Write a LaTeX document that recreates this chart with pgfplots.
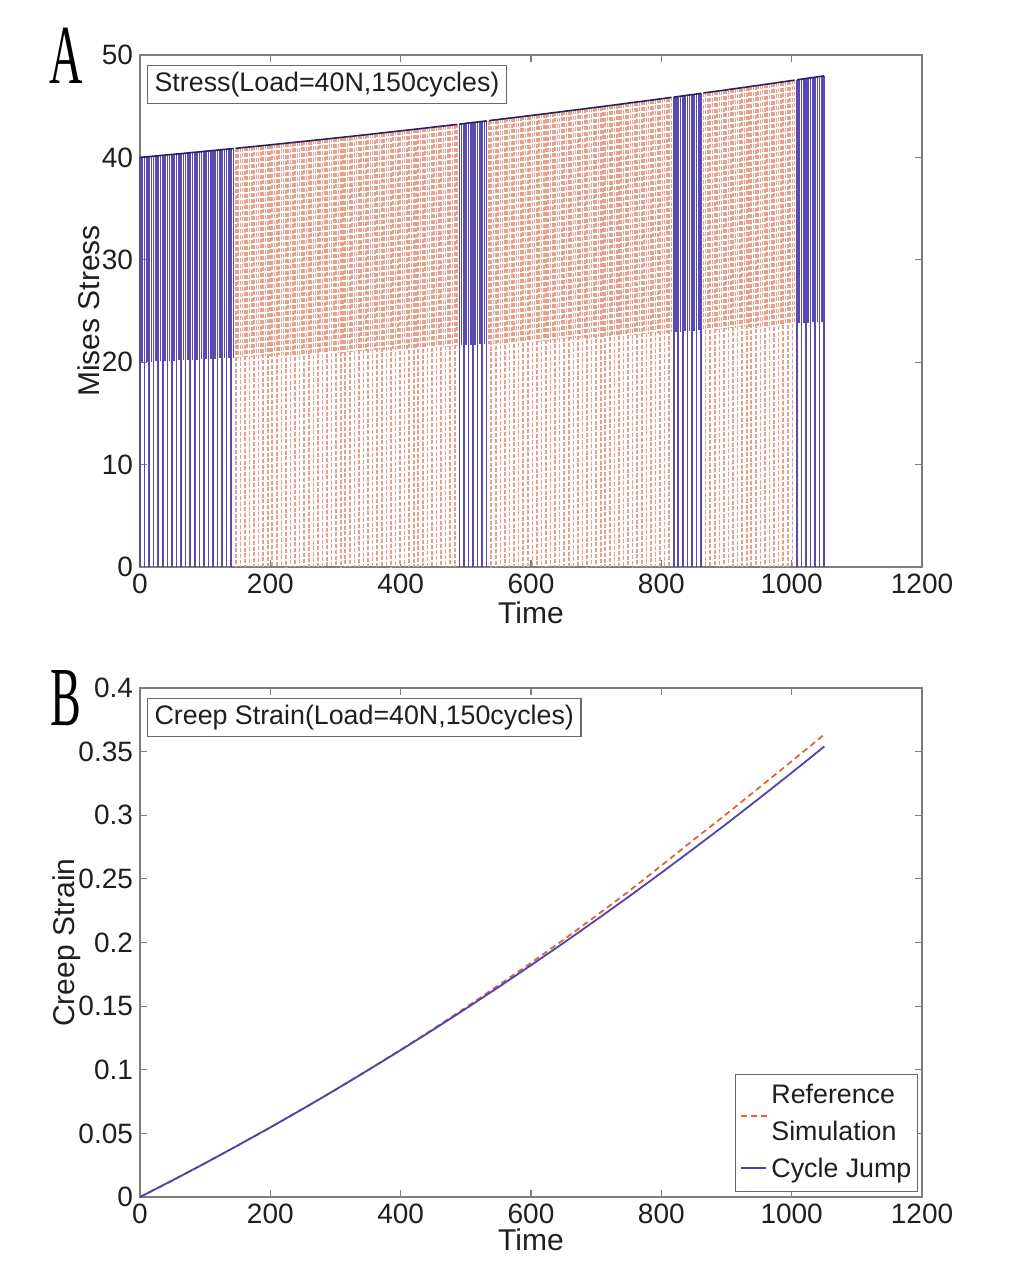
\documentclass[border=0pt]{standalone}
\usepackage{pgfplots}
\pgfplotsset{compat=1.18}
\usepackage{pgfplotstable}
\usepackage{graphicx}
\usepackage{fontspec}
\setmainfont{Liberation Sans}
\newfontfamily\lserif{Liberation Serif}

\definecolor{cjblue}{RGB}{88,74,178}
\definecolor{cjblue2}{RGB}{78,68,172}
\definecolor{envnavy}{RGB}{40,32,95}
\definecolor{refred}{RGB}{230,160,140}
\definecolor{refred2}{RGB}{226,98,62}
\definecolor{axgray}{RGB}{125,125,125}
\definecolor{boxgray}{RGB}{105,105,105}

% Stress peaks: t, peak stress P, relative drop r (1 = to zero, 0.5 = to half)
\pgfplotstableread{
t P r
0 40.00 1
3.5 40.02 0.5
7 40.04 1
10.5 40.06 0.5
14 40.08 1
17.5 40.10 0.5
21 40.12 1
24.5 40.14 0.5
28 40.16 1
31.5 40.18 0.5
35 40.21 1
38.5 40.23 0.5
42 40.25 1
45.5 40.27 0.5
49 40.29 1
52.5 40.31 0.5
56 40.33 1
59.5 40.35 0.5
63 40.37 1
66.5 40.39 0.5
70 40.41 1
73.5 40.44 0.5
77 40.46 1
80.5 40.48 0.5
84 40.50 1
87.5 40.52 0.5
91 40.54 1
94.5 40.56 0.5
98 40.59 1
101.5 40.61 0.5
105 40.63 1
108.5 40.65 0.5
112 40.67 1
115.5 40.69 0.5
119 40.71 1
122.5 40.74 0.5
126 40.76 1
129.5 40.78 0.5
133 40.80 1
136.5 40.82 0.5
140 40.85 1
143.5 40.87 0.5
}\blueA

\pgfplotstableread{
t P r
147 40.89 1
150.5 40.91 0.5
154 40.93 1
157.5 40.96 0.5
161 40.98 1
164.5 41.00 0.5
168 41.02 1
171.5 41.04 0.5
175 41.07 1
178.5 41.09 0.5
182 41.11 1
185.5 41.13 0.5
189 41.16 1
192.5 41.18 0.5
196 41.20 1
199.5 41.22 0.5
203 41.25 1
206.5 41.27 0.5
210 41.29 1
213.5 41.32 0.5
217 41.34 1
220.5 41.36 0.5
224 41.39 1
227.5 41.41 0.5
231 41.43 1
234.5 41.45 0.5
238 41.48 1
241.5 41.50 0.5
245 41.52 1
248.5 41.55 0.5
252 41.57 1
255.5 41.59 0.5
259 41.62 1
262.5 41.64 0.5
266 41.66 1
269.5 41.69 0.5
273 41.71 1
276.5 41.73 0.5
280 41.76 1
283.5 41.78 0.5
287 41.80 1
290.5 41.83 0.5
294 41.85 1
297.5 41.88 0.5
301 41.90 1
304.5 41.92 0.5
308 41.95 1
311.5 41.97 0.5
315 42.00 1
318.5 42.02 0.5
322 42.04 1
325.5 42.07 0.5
329 42.09 1
332.5 42.12 0.5
336 42.14 1
339.5 42.17 0.5
343 42.19 1
346.5 42.21 0.5
350 42.24 1
353.5 42.26 0.5
357 42.29 1
360.5 42.31 0.5
364 42.34 1
367.5 42.36 0.5
371 42.39 1
374.5 42.41 0.5
378 42.44 1
381.5 42.46 0.5
385 42.49 1
388.5 42.51 0.5
392 42.54 1
395.5 42.56 0.5
399 42.59 1
402.5 42.61 0.5
406 42.64 1
409.5 42.66 0.5
413 42.69 1
416.5 42.71 0.5
420 42.74 1
423.5 42.76 0.5
427 42.79 1
430.5 42.81 0.5
434 42.84 1
437.5 42.86 0.5
441 42.89 1
444.5 42.91 0.5
448 42.94 1
451.5 42.97 0.5
455 42.99 1
458.5 43.02 0.5
462 43.04 1
465.5 43.07 0.5
469 43.09 1
472.5 43.12 0.5
476 43.15 1
479.5 43.17 0.5
483 43.20 1
486.5 43.22 0.5
}\redA

\pgfplotstableread{
t P r
490 43.25 1
493.5 43.28 0.5
497 43.30 1
500.5 43.33 0.5
504 43.36 1
507.5 43.38 0.5
511 43.41 1
514.5 43.43 0.5
518 43.46 1
521.5 43.49 0.5
525 43.51 1
528.5 43.54 0.5
532 43.57 1
}\blueB

\pgfplotstableread{
t P r
535.5 43.59 0.5
539 43.62 1
542.5 43.65 0.5
546 43.67 1
549.5 43.70 0.5
553 43.73 1
556.5 43.75 0.5
560 43.78 1
563.5 43.81 0.5
567 43.84 1
570.5 43.86 0.5
574 43.89 1
577.5 43.92 0.5
581 43.94 1
584.5 43.97 0.5
588 44.00 1
591.5 44.03 0.5
595 44.05 1
598.5 44.08 0.5
602 44.11 1
605.5 44.14 0.5
609 44.16 1
612.5 44.19 0.5
616 44.22 1
619.5 44.25 0.5
623 44.27 1
626.5 44.30 0.5
630 44.33 1
633.5 44.36 0.5
637 44.39 1
640.5 44.41 0.5
644 44.44 1
647.5 44.47 0.5
651 44.50 1
654.5 44.53 0.5
658 44.55 1
661.5 44.58 0.5
665 44.61 1
668.5 44.64 0.5
672 44.67 1
675.5 44.69 0.5
679 44.72 1
682.5 44.75 0.5
686 44.78 1
689.5 44.81 0.5
693 44.84 1
696.5 44.86 0.5
700 44.89 1
703.5 44.92 0.5
707 44.95 1
710.5 44.98 0.5
714 45.01 1
717.5 45.04 0.5
721 45.07 1
724.5 45.09 0.5
728 45.12 1
731.5 45.15 0.5
735 45.18 1
738.5 45.21 0.5
742 45.24 1
745.5 45.27 0.5
749 45.30 1
752.5 45.33 0.5
756 45.36 1
759.5 45.39 0.5
763 45.42 1
766.5 45.44 0.5
770 45.47 1
773.5 45.50 0.5
777 45.53 1
780.5 45.56 0.5
784 45.59 1
787.5 45.62 0.5
791 45.65 1
794.5 45.68 0.5
798 45.71 1
801.5 45.74 0.5
805 45.77 1
808.5 45.80 0.5
812 45.83 1
815.5 45.86 0.5
}\redB

\pgfplotstableread{
t P r
819 45.89 1
822.5 45.92 0.5
826 45.95 1
829.5 45.98 0.5
833 46.01 1
836.5 46.04 0.5
840 46.07 1
843.5 46.10 0.5
847 46.13 1
850.5 46.16 0.5
854 46.19 1
857.5 46.23 0.5
861 46.26 1
}\blueC

\pgfplotstableread{
t P r
864.5 46.29 0.5
868 46.32 1
871.5 46.35 0.5
875 46.38 1
878.5 46.41 0.5
882 46.44 1
885.5 46.47 0.5
889 46.50 1
892.5 46.53 0.5
896 46.56 1
899.5 46.59 0.5
903 46.62 1
906.5 46.66 0.5
910 46.69 1
913.5 46.72 0.5
917 46.75 1
920.5 46.78 0.5
924 46.81 1
927.5 46.84 0.5
931 46.87 1
934.5 46.91 0.5
938 46.94 1
941.5 46.97 0.5
945 47.00 1
948.5 47.03 0.5
952 47.06 1
955.5 47.10 0.5
959 47.13 1
962.5 47.16 0.5
966 47.19 1
969.5 47.22 0.5
973 47.25 1
976.5 47.29 0.5
980 47.32 1
983.5 47.35 0.5
987 47.38 1
990.5 47.41 0.5
994 47.45 1
997.5 47.48 0.5
1001 47.51 1
1004.5 47.54 0.5
}\redC

\pgfplotstableread{
t P r
1008 47.57 1
1011.5 47.61 0.5
1015 47.64 1
1018.5 47.67 0.5
1022 47.70 1
1025.5 47.74 0.5
1029 47.77 1
1032.5 47.80 0.5
1036 47.83 1
1039.5 47.87 0.5
1043 47.90 1
1046.5 47.93 0.5
1050 47.96 1
}\blueD

\pgfplotsset{
  myaxis/.style={
    scale only axis, width=391pt,
    xmin=0, xmax=1200, xtick={0,200,400,600,800,1000,1200},
    axis line style={draw=axgray, line width=0.7pt},
    tick style={draw=axgray, line width=0.6pt},
    major tick length=3.5pt,
    tick align=inside,
    tick label style={font=\fontsize{14}{16}\selectfont, text=black!88},
    label style={font=\fontsize{15}{17}\selectfont, text=black!88},
    /pgf/number format/assume math mode=true,
    /pgf/number format/1000 sep={},
    xlabel={Time},
    xlabel style={yshift=3pt},
    clip=false,
  },
  bluebars/.style={draw=none, mark=none, forget plot,
    error bars/.cd, y dir=minus, y explicit relative, error mark=none,
    error bar style={draw=cjblue, solid, line width=0.8pt}},
  redbars/.style={draw=none, mark=none, forget plot,
    error bars/.cd, y dir=minus, y explicit relative, error mark=none,
    error bar style={draw=refred, dash pattern=on 2pt off 0.9pt, line width=0.8pt}},
  envelope/.style={envnavy, line width=0.8pt, mark=none, forget plot},
}

\newcommand\dashsample{%
  \textcolor{refred2}{\rule{3pt}{1.1pt}\hspace{2pt}\rule{3pt}{1.1pt}\hspace{2pt}\rule{3pt}{1.1pt}}}
\newcommand\solidsample{\textcolor{cjblue2}{\rule{12.5pt}{1pt}}}

\begin{document}
\begin{tikzpicture}
\useasboundingbox (0pt,0pt) rectangle (506.5pt,-631.5pt);

\node[font=\lserif\fontsize{42}{42}\selectfont, inner sep=0pt] at (33pt,-28pt) {\scalebox{0.55}[1]{A}};
\node[font=\lserif\fontsize{42}{42}\selectfont, inner sep=0pt] at (33pt,-349pt) {\scalebox{0.55}[1]{B}};

% ---------- Panel A ----------
\begin{axis}[myaxis, at={(70pt,-27.5pt)}, anchor=north west, height=256pt,
  ymin=0, ymax=50, ytick={0,10,20,30,40,50},
  ylabel={Mises Stress}, ylabel style={yshift=-6pt}]
\addplot[redbars] table[x=t, y=P, y error=r] {\redA};
\addplot[redbars] table[x=t, y=P, y error=r] {\redB};
\addplot[redbars] table[x=t, y=P, y error=r] {\redC};
\addplot[bluebars] table[x=t, y=P, y error=r] {\blueA};
\addplot[bluebars] table[x=t, y=P, y error=r] {\blueB};
\addplot[bluebars] table[x=t, y=P, y error=r] {\blueC};
\addplot[bluebars] table[x=t, y=P, y error=r] {\blueD};
\addplot[envelope] table[x=t, y=P] {\blueA};
\addplot[envelope] table[x=t, y=P] {\redA};
\addplot[envelope] table[x=t, y=P] {\blueB};
\addplot[envelope] table[x=t, y=P] {\redB};
\addplot[envelope] table[x=t, y=P] {\blueC};
\addplot[envelope] table[x=t, y=P] {\redC};
\addplot[envelope] table[x=t, y=P] {\blueD};
\node[draw=boxgray, line width=0.6pt, fill=white, anchor=north west, inner xsep=3.5pt, inner ysep=3pt,
  text height=10pt, text depth=2.8pt, font=\fontsize{13.4}{15}\selectfont, text=black!88]
  at ([xshift=3.5pt,yshift=-5pt]rel axis cs:0,1) {Stress(Load=40N,150cycles)};
\end{axis}

% ---------- Panel B ----------
\begin{axis}[myaxis, at={(70pt,-344pt)}, anchor=north west, height=254.5pt,
  ymin=0, ymax=0.4, ytick={0,0.05,0.1,0.15,0.2,0.25,0.3,0.35,0.4},
  yticklabel style={/pgf/number format/fixed, /pgf/number format/precision=2},
  ylabel={Creep Strain}, ylabel style={yshift=-8pt},
  xlabel style={yshift=1.5pt}]
\addplot[refred2, line width=0.9pt, dash pattern=on 3pt off 2pt] coordinates {
(0,0) (50,0.0131) (100,0.0266) (150,0.0405) (200,0.0547) (250,0.0693)
(300,0.0843) (350,0.0998) (400,0.1157) (450,0.1320) (500,0.1490)
(550,0.1663) (600,0.1840) (650,0.2022) (700,0.2210) (750,0.2402)
(800,0.2604) (850,0.2809) (900,0.3010) (950,0.3217) (1000,0.3424) (1050,0.3635)};
\addplot[cjblue2, line width=0.9pt] coordinates {
(0,0) (50,0.0131) (100,0.0266) (150,0.0405) (200,0.0547) (250,0.0693)
(300,0.0843) (350,0.0997) (400,0.1154) (450,0.1315) (500,0.1480)
(550,0.1649) (600,0.1821) (650,0.1997) (700,0.2177) (750,0.2360)
(800,0.2548) (850,0.2739) (900,0.2933) (950,0.3132) (1000,0.3334) (1050,0.3540)};
\node[draw=boxgray, line width=0.6pt, fill=white, anchor=north west, inner xsep=3.5pt, inner ysep=3pt,
  text height=10pt, text depth=2.8pt, font=\fontsize{13.4}{15}\selectfont, text=black!88]
  at ([xshift=3.5pt,yshift=-5pt]rel axis cs:0,1) {Creep Strain(Load=40N,150cycles)};
% legend
\node[draw=boxgray, line width=0.6pt, fill=white, anchor=south east, inner xsep=3pt, inner ysep=1.5pt,
  font=\fontsize{13.4}{18.5}\selectfont, text=black!88]
  at ([xshift=-2pt,yshift=2.5pt]rel axis cs:1,0) {%
  \begin{tabular}{@{}l@{\hspace{2pt}}l@{}}
  \smash{\raisebox{-7pt}{\dashsample}} & Reference\\
   & Simulation\\
  \raisebox{4.3pt}{\solidsample} & Cycle Jump
  \end{tabular}};
\end{axis}
\end{tikzpicture}
\end{document}
